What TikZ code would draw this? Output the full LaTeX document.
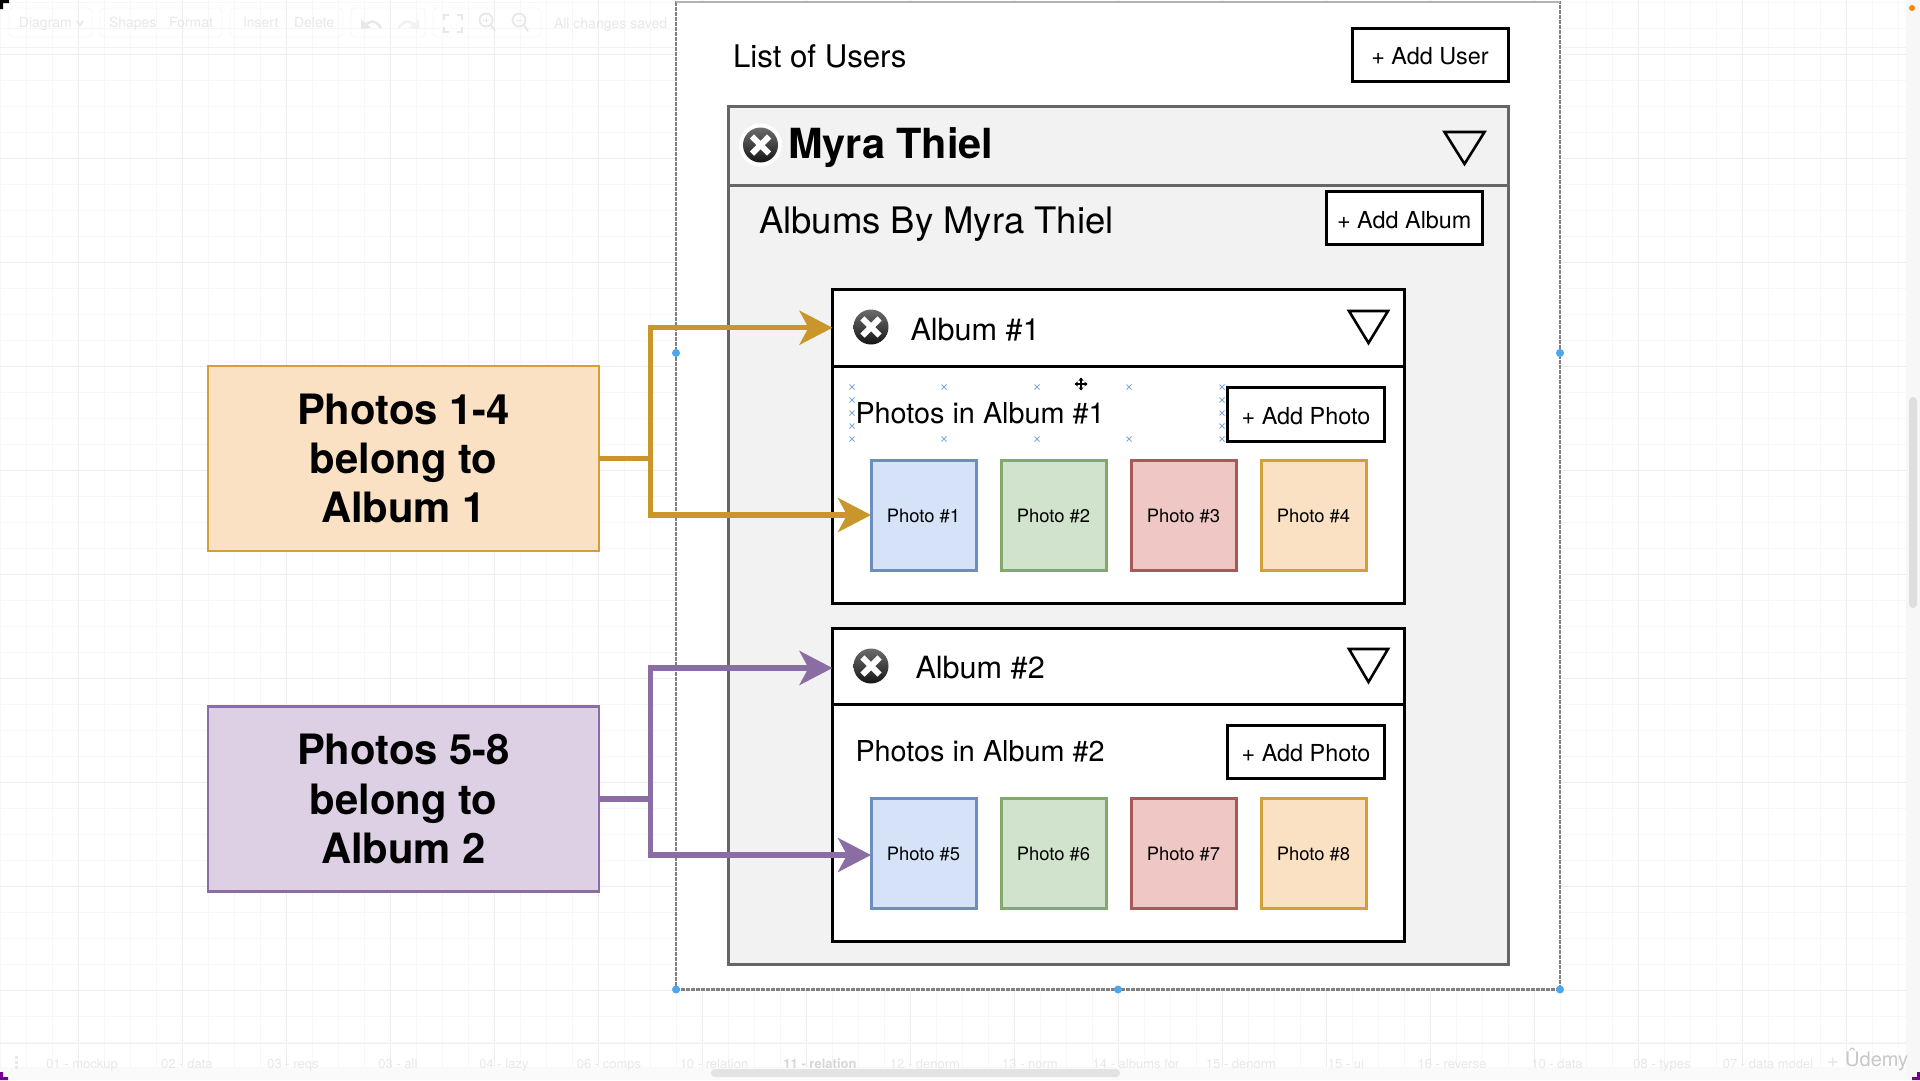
\documentclass[tikz,border=0pt]{standalone}
\usepackage{fontspec}
\setmainfont{TeX Gyre Heros}
\usetikzlibrary{arrows.meta,calc}
\definecolor{gold}{HTML}{C9962B}
\definecolor{goldfill}{HTML}{FAE1C4}
\definecolor{goldline}{HTML}{D3A038}
\definecolor{purp}{HTML}{8A6DA3}
\definecolor{purpfill}{HTML}{DDD0E4}
\definecolor{bluefill}{HTML}{D6E2F8}
\definecolor{blueline}{HTML}{6C8EBF}
\definecolor{greenfill}{HTML}{D2E3CD}
\definecolor{greenline}{HTML}{82A96A}
\definecolor{redfill}{HTML}{EFC8C6}
\definecolor{redline}{HTML}{A65A5A}
\definecolor{panelgray}{HTML}{F2F2F2}
\definecolor{panelline}{HTML}{666666}
\definecolor{faint}{HTML}{E8E8E8}
\definecolor{handle}{HTML}{4AA8EE}
\definecolor{marker}{HTML}{7FA9D8}
\newcommand{\fsz}[1]{\fontsize{#1}{#1}\selectfont}
\newcommand{\bx}[7]{% name x0 y0 x1 y1 style text
  \pgfmathsetmacro{\bw}{#4-#2}\pgfmathsetmacro{\bh}{#5-#3}
  \pgfmathsetmacro{\bcx}{(#2+#4)/2}\pgfmathsetmacro{\bcy}{(#3+#5)/2}
  \node[#6,minimum width=\bw pt,minimum height=\bh pt] (#1) at (\bcx,\bcy) {#7};}
\newcommand{\xicon}[4]{% name x y r
  \node[xdisc,minimum size=#4*2pt] (#1) at (#2,#3) {};
  \draw[xcross] ($(#1.center)+(-8.6,-8.6)$) -- ($(#1.center)+(8.6,8.6)$);
  \draw[xcross] ($(#1.center)+(-8.6,8.6)$) -- ($(#1.center)+(8.6,-8.6)$);}
\newcommand{\tri}[4]{\draw[tristroke] (#1,#2) -- (#3,#2) -- ({(#1+#3)/2},#4) -- cycle;}
\tikzset{
  x=1pt,y=-1pt,
  base/.style={rectangle,outer sep=0pt,inner sep=0pt,line width=3pt,text=black,align=center},
  btn/.style={base,draw=black,fill=white,font=\fsz{23.4},text height=20.5pt,text depth=0pt},
  album/.style={base,draw=black,fill=white},
  panel/.style={base,draw=panelline,fill=panelgray},
  photo/.style={base,font=\fsz{18.4},text height=15pt,text depth=0pt,line width=3pt},
  ph1/.style={photo,draw=blueline,fill=bluefill},
  ph2/.style={photo,draw=greenline,fill=greenfill},
  ph3/.style={photo,draw=redline,fill=redfill},
  ph4/.style={photo,draw=goldline,fill=goldfill},
  legend/.style={rectangle,outer sep=0pt,inner sep=0pt,line width=2.9pt,align=center,font=\fsz{41.8}\bfseries},
  lab/.style={anchor=base west,inner sep=0pt,outer sep=0pt,text=black},
  link/.style={line width=5.3pt,line join=miter,-{Stealth[length=33pt,width=34pt,inset=9pt]}},
  stub/.style={line width=5.3pt},
  xdisc/.style={circle,inner sep=0pt,outer sep=0pt,top color=black!58,bottom color=black!92,middle color=black!74},
  xcross/.style={white,line width=6pt},
  tristroke/.style={black,line width=2.6pt,line join=miter},
  hdl/.style={circle,fill=handle,inner sep=0pt,minimum size=8pt},
  mk/.style={marker,line width=.9pt},
  ui/.style={inner sep=0pt,outer sep=0pt,text=faint,font=\fsz{14}},
  uibox/.style={draw=black!3,line width=.8pt,rounded corners=4pt},
  uiicon/.style={draw=faint,line width=1.8pt},
  gridminor/.style={black!3,line width=.7pt},
  gridmajor/.style={black!7,line width=.8pt},
}
\begin{document}
\begin{tikzpicture}
\useasboundingbox (0,0) rectangle (1920,1080);
\fill[white] (0,0) rectangle (1920,1080);
% grid
\foreach \k in {0,...,73} {\draw[gridminor] ({0+26*\k},0) -- ({0+26*\k},1080);}
\foreach \k in {0,...,41} {\draw[gridminor] (0,{2+26*\k}) -- (1920,{2+26*\k});}
\foreach \k in {0,...,18} {\draw[gridmajor] ({78+104*\k},0) -- ({78+104*\k},1080);}
\foreach \k in {0,...,10} {\draw[gridmajor] (0,{54+104*\k}) -- (1920,{54+104*\k});}
\draw[black!5,line width=.8pt] (0,47) -- (1920,47);
% toolbar
\draw[uibox] (9,8) rectangle (92,37);
\draw[uibox] (100,8) rectangle (222,37);
\draw[uibox] (230,8) rectangle (343,37);
\draw[uibox] (351,8) rectangle (425,37);
\draw[uibox] (433,8) rectangle (541,37);
\node[ui,anchor=base west] (tbDiagram) at (19,27) {Diagram};
\node[ui,anchor=base west] (tbShapes) at (109,27) {Shapes};
\node[ui,anchor=base west] (tbFormat) at (169,27) {Format};
\node[ui,anchor=base west] (tbInsert) at (243,27) {Insert};
\node[ui,anchor=base west] (tbDelete) at (294,27) {Delete};
\node[ui,anchor=base west] (tbSaved) at (554,28) {All changes saved};
\draw[uiicon] (77,21) -- (80,25) -- (83,21);
\draw[uiicon,line width=2.6pt] (365,27) .. controls (368,20) and (376,19) .. (381,28);
\fill[faint] (361,19) -- (361,29) -- (371,28) -- cycle;
\draw[black!5,line width=2.6pt] (399,28) .. controls (404,19) and (412,20) .. (415,27);
\fill[black!5] (419,19) -- (419,29) -- (409,28) -- cycle;
\draw[uiicon] (444,20) -- (444,15) -- (449,15) (457,15) -- (462,15) -- (462,20) (462,27) -- (462,32) -- (457,32) (449,32) -- (444,32) -- (444,27);
\draw[uiicon] (486,20) circle[radius=6.5] (491,25) -- (495,31);
\draw[uiicon,line width=1pt] (483,20) -- (489,20) (486,17) -- (486,23);
\draw[uiicon] (519,20) circle[radius=6.5] (524,25) -- (528,31);
\draw[uiicon,line width=1pt] (516,20) -- (522,20);
% tab bar
\fill[black!2] (0,1067) rectangle (1920,1080);
\draw[black!6,line width=1pt] (0,1043) -- (1920,1043);
\foreach \ty in {1057,1062,1067} {\fill[faint] (15,\ty-1.5) rectangle (18,\ty+1.5);}
\foreach \tx/\tt in {82/01 - mockup,187/02 - data,293/03 - reqs,398/03 - all,504/04 - lazy,609/06 - comps,714/10 - relation,925/12 - denorm,1030/13 - norm,1136/14 - albums for,1241/15 - denorm,1346/15 - ui,1452/16 - reverse,1557/10 - data,1662/08 - types,1768/07 - data model}
  {\node[ui,anchor=base,font=\fsz{13}] at (\tx,1068) {\tt};}
\node[ui,anchor=base,font=\fsz{13}\bfseries,text=black!16] (tabActive) at (820,1068) {11 - relation};
\fill[black!11,rounded corners=4pt] (711,1069) rectangle (1120,1077);
% right strip and scrollbar
\fill[black!3,rounded corners=8pt] (1906,0) rectangle (1930,1080);
\fill[black!13,rounded corners=4pt] (1909,397) rectangle (1917,608);
\fill[orange!70!yellow!80!red] (1912,8) circle[radius=3];
% watermark
\node[anchor=base,inner sep=0pt,font=\fsz{20},text=black!10] (udPlus) at (1833,1067) {+};
\node[anchor=base west,inner sep=0pt,font=\fsz{20},text=black!22] (ud) at (1845,1066) {Ûdemy};
% screen corners
\fill[black] (0,0) rectangle (9,3) (0,0) rectangle (3,9);
\fill[purple!60!blue] (0,1072) rectangle (3,1080) (0,1077) rectangle (8,1080);
\fill[purple!60!blue] (1917,1072) rectangle (1920,1080) (1912,1077) rectangle (1920,1080);
% outer frame
\bx{frame}{676}{2}{1560}{989.5}{rectangle,outer sep=0pt,fill=white,draw=black!50,dashed,dash pattern=on 4pt off 1pt,line width=2.6pt}{}
\draw[black!30,line width=2.5pt] (frame.north west) -- (frame.north east);
% list of users
\node[lab,font=\fsz{31.2}] (listUsers) at (733,67) {List of Users};
\bx{addUser}{1352}{28}{1508}{81}{btn}{+ Add User}
% user panel
\bx{userBody}{728}{185}{1508.5}{964.5}{panel}{}
\bx{userHead}{728}{106.5}{1508.5}{185}{panel}{}
\node[circle,fill=white,inner sep=0pt,minimum size=43pt] (userHalo) at (760.5,145) {};
\xicon{userX}{760.5}{145}{17.5}
\node[lab,font=\fsz{41.5}\bfseries] (userName) at (788,158) {Myra Thiel};
\tri{1444.5}{132}{1484.5}{164}
\node[lab,font=\fsz{36.5}] (albumsBy) at (759,233) {Albums By Myra Thiel};
\bx{addAlbum}{1326}{191}{1482.5}{244.5}{btn}{+ Add Album}
% album 1
\bx{albumOneBody}{832.5}{366.5}{1404.5}{603}{album}{}
\bx{albumOneHead}{832.5}{289}{1404.5}{366.5}{album}{}
\xicon{albumOneX}{871}{327}{17.5}
\node[lab,font=\fsz{30.6}] (albumOneTitle) at (910.5,340) {Album \#1};
\tri{1349}{311}{1388}{343}
\node[lab,font=\fsz{28.8}] (photosOne) at (855.5,423) {Photos in Album \#1};
\bx{addPhotoOne}{1227.5}{387}{1384.5}{441}{btn}{+ Add Photo}
\bx{photoA}{871}{460}{976}{570}{ph1}{Photo \#1}
\bx{photoB}{1001}{460}{1106}{570}{ph2}{Photo \#2}
\bx{photoC}{1131}{460}{1236}{570}{ph3}{Photo \#3}
\bx{photoD}{1261}{460}{1366}{570}{ph4}{Photo \#4}
% selection markers
\foreach \mx in {852,944,1037,1129,1222} \foreach \my in {387,439}
  {\draw[mk] (\mx-2.5,\my-2.5) -- (\mx+2.5,\my+2.5) (\mx-2.5,\my+2.5) -- (\mx+2.5,\my-2.5);}
\foreach \mx in {852,1222} \foreach \my in {400,413,426}
  {\draw[mk] (\mx-2.5,\my-2.5) -- (\mx+2.5,\my+2.5) (\mx-2.5,\my+2.5) -- (\mx+2.5,\my-2.5);}
% album 2
\bx{albumTwoBody}{832.5}{704}{1404.5}{941}{album}{}
\bx{albumTwoHead}{832.5}{628}{1404.5}{704}{album}{}
\xicon{albumTwoX}{871}{666}{17.5}
\node[lab,font=\fsz{30.6}] (albumTwoTitle) at (915.5,678) {Album \#2};
\tri{1349}{649}{1388}{682}
\node[lab,font=\fsz{28.8}] (photosTwo) at (855.5,761) {Photos in Album \#2};
\bx{addPhotoTwo}{1227.5}{725}{1384.5}{778}{btn}{+ Add Photo}
\bx{photoE}{871}{798}{976}{908}{ph1}{Photo \#5}
\bx{photoF}{1001}{798}{1106}{908}{ph2}{Photo \#6}
\bx{photoG}{1131}{798}{1236}{908}{ph3}{Photo \#7}
\bx{photoH}{1261}{798}{1366}{908}{ph4}{Photo \#8}
% legends
\bx{legendA}{208}{366}{599}{551}{legend,draw=goldline,fill=goldfill}{Photos 1-4\\[7.5pt]belong to\\[7.5pt]Album 1}
\bx{legendB}{208}{706.5}{599}{891.5}{legend,draw=purp,fill=purpfill}{Photos 5-8\\[7.5pt]belong to\\[7.5pt]Album 2}
% connectors
\coordinate (jA) at (650.5,458.5);
\coordinate (jB) at (650.5,799);
\draw[stub,gold] (legendA.east) -- (jA);
\draw[link,gold] (jA) |- (albumOneHead.west);
\draw[link,gold] (jA) |- (photoA.west);
\draw[stub,purp] (legendB.east) -- (jB);
\draw[link,purp] (jB) |- ($(albumTwoHead.west)+(0,2)$);
\draw[link,purp] (jB) |- ($(photoE.west)+(0,2)$);
% handles
\node[hdl] (h1) at (676,353) {};
\node[hdl] (h2) at (1560,353) {};
\node[hdl] (h3) at (676,989.5) {};
\node[hdl] (h4) at (1118,989.5) {};
\node[hdl] (h5) at (1560,989.5) {};
% cursor
\begin{scope}[shift={(1081,384)}]
\draw[white,line width=2.6pt] (-6,0) -- (6,0) (0,-6) -- (0,6);
\draw[black,line width=1.4pt] (-6,0) -- (6,0) (0,-6) -- (0,6);
\fill[black] (-6.5,0) -- (-3.5,-2.5) -- (-3.5,2.5) -- cycle (6.5,0) -- (3.5,-2.5) -- (3.5,2.5) -- cycle (0,-6.5) -- (-2.5,-3.5) -- (2.5,-3.5) -- cycle (0,6.5) -- (-2.5,3.5) -- (2.5,3.5) -- cycle;
\end{scope}
\end{tikzpicture}
\end{document}
